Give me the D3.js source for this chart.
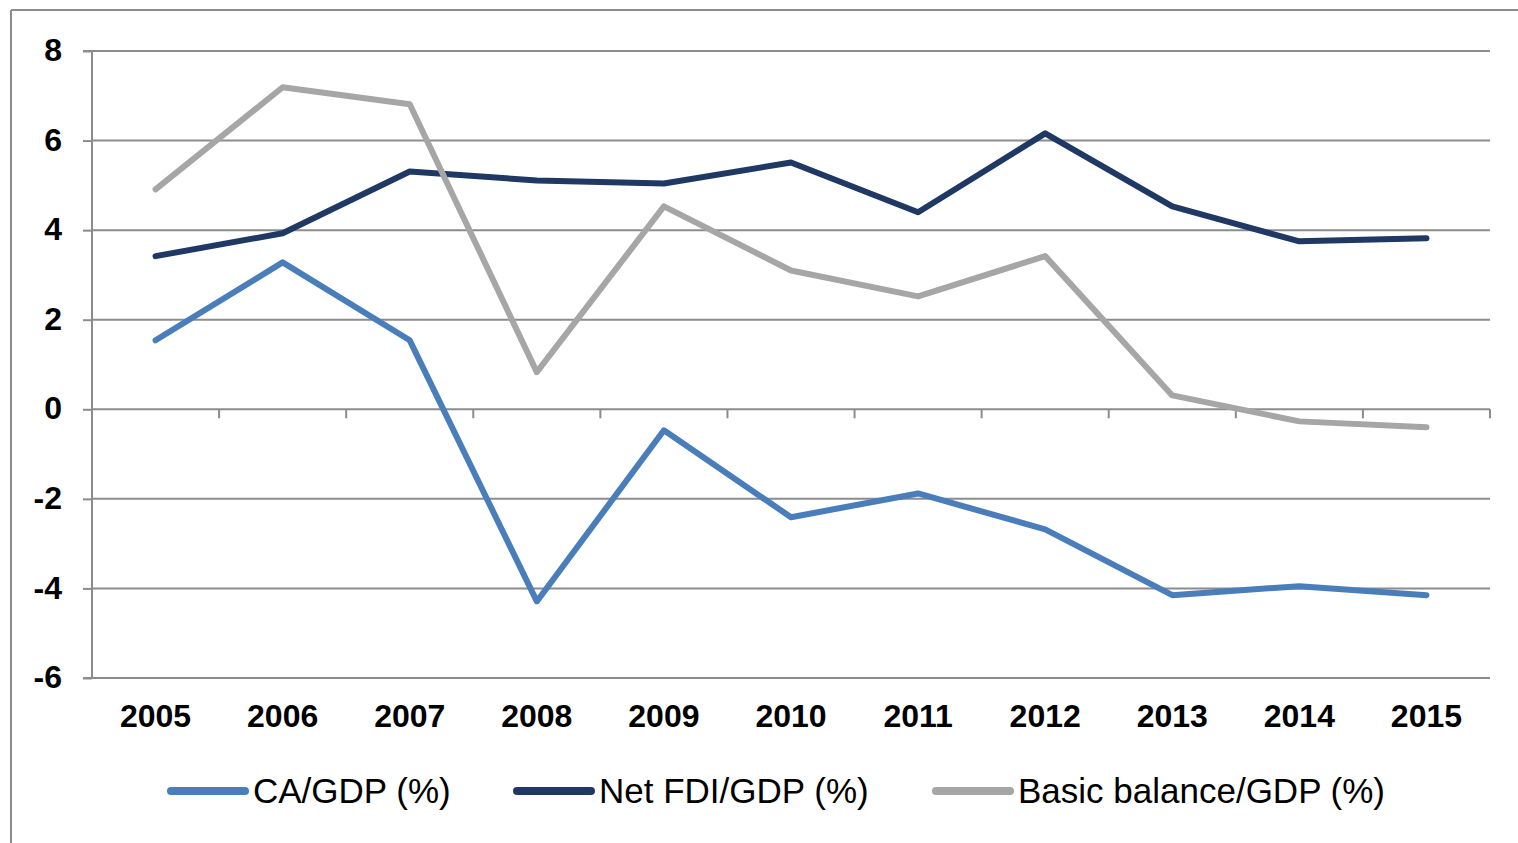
<!DOCTYPE html>
<html><head><meta charset="utf-8">
<script src="https://cdn.jsdelivr.net/npm/d3@7"></script>
<style>html,body{margin:0;padding:0;background:#fff;}svg{display:block;}</style>
</head><body>
<svg id="c" width="1518" height="843"></svg>
<script>
const years = ["2005","2006","2007","2008","2009","2010","2011","2012","2013","2014","2015"];
const caGdp = [1.54, 3.28, 1.54, -4.29, -0.47, -2.41, -1.88, -2.68, -4.15, -3.95, -4.15];
const fdiGdp = [3.42, 3.93, 5.31, 5.11, 5.04, 5.51, 4.40, 6.16, 4.53, 3.75, 3.82];
const basicGdp = [4.91, 7.19, 6.81, 0.83, 4.53, 3.10, 2.52, 3.42, 0.31, -0.27, -0.40];
const yTicks = [-6, -4, -2, 0, 2, 4, 6, 8];
const seriesNames = ["CA/GDP (%)", "Net FDI/GDP (%)", "Basic balance/GDP (%)"];
const seriesColors = ["#4a7ebb", "#1f3864", "#a6a6a6"];

const series = [caGdp, fdiGdp, basicGdp];
const svg = d3.select("#c");
const L = 92, R = 1490, T = 51, B = 678;
const x = d3.scaleBand().domain(years).range([L, R]);
const y = d3.scaleLinear().domain([-6, 8]).range([B, T]);
const grid = "#8c8c8c";
const FONT = "Liberation Sans, Arial, sans-serif";

// outer frame (top & left)
svg.append("line").attr("x1", 11).attr("x2", 1518).attr("y1", 10).attr("y2", 10).attr("stroke", grid).attr("stroke-width", 2);
svg.append("line").attr("x1", 11).attr("x2", 11).attr("y1", 10).attr("y2", 843).attr("stroke", grid).attr("stroke-width", 2);

// gridlines
svg.append("g").selectAll("line").data(yTicks).join("line")
  .attr("x1", L).attr("x2", R).attr("y1", d => y(d)).attr("y2", d => y(d))
  .attr("stroke", grid).attr("stroke-width", 2);

// y axis
const yAxis = d3.axisLeft(y).tickValues(yTicks).tickSize(9).tickPadding(21).tickFormat(d => String(d));
const gy = svg.append("g").attr("transform", `translate(${L},0)`).call(yAxis);
gy.select(".domain").attr("stroke", grid).attr("stroke-width", 2).attr("d", `M-9,${T}H0V${B}H-9`);
gy.selectAll(".tick line").attr("stroke", grid).attr("stroke-width", 2);
gy.selectAll(".tick text").attr("font-family", FONT).attr("font-weight", "bold").attr("font-size", 32).attr("fill", "#000").attr("dy", "0.3em");

// x tick marks on zero line at band boundaries
const bounds = years.map(d => x(d)).concat([R]);
svg.append("g").selectAll("line").data(bounds).join("line")
  .attr("x1", d => d).attr("x2", d => d).attr("y1", y(0)).attr("y2", y(0) + 9)
  .attr("stroke", grid).attr("stroke-width", 2);

// x labels
svg.append("g").selectAll("text").data(years).join("text")
  .attr("x", d => x(d) + x.bandwidth() / 2).attr("y", 727)
  .attr("text-anchor", "middle").attr("font-family", FONT)
  .attr("font-weight", "bold").attr("font-size", 32).attr("fill", "#000").text(d => d);

// lines
const line = d3.line().x((d, i) => x(years[i]) + x.bandwidth() / 2).y(d => y(d));
series.forEach((s, k) => {
  svg.append("path").datum(s).attr("d", line).attr("fill", "none")
    .attr("stroke", seriesColors[k]).attr("stroke-width", 6)
    .attr("stroke-linejoin", "round").attr("stroke-linecap", "round");
});

// legend
const legX = [167, 513, 932];
seriesNames.forEach((n, k) => {
  svg.append("line").attr("x1", legX[k] + 4).attr("x2", legX[k] + 78).attr("y1", 791).attr("y2", 791)
    .attr("stroke", seriesColors[k]).attr("stroke-width", 8).attr("stroke-linecap", "round");
  svg.append("text").attr("x", legX[k] + 86).attr("y", 803)
    .attr("font-family", FONT).attr("font-size", 35).attr("fill", "#000").text(n);
});
</script>
</body></html>
